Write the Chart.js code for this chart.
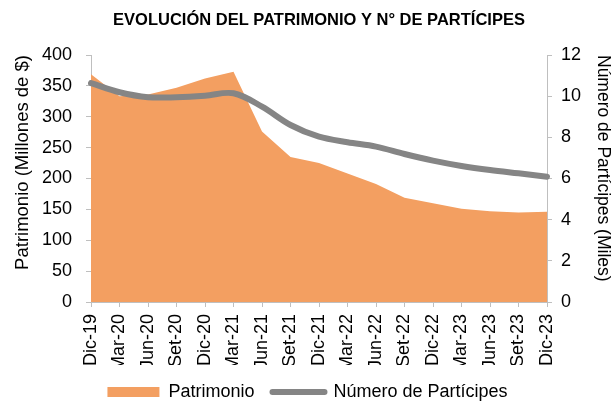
<!DOCTYPE html>
<html>
<head>
<meta charset="utf-8">
<script src="https://cdn.jsdelivr.net/npm/chart.js@4/dist/chart.umd.min.js"></script>
<style>
  html, body { margin: 0; padding: 0; background: #fff; }
  #wrap { width: 615px; height: 403px; position: relative; }
</style>
</head>
<body>
<div id="wrap"><canvas id="c" width="615" height="403"></canvas></div>
<script>
const categories = ['Dic-19','Mar-20','Jun-20','Set-20','Dic-20','Mar-21','Jun-21','Set-21','Dic-21','Mar-22','Jun-22','Set-22','Dic-22','Mar-23','Jun-23','Set-23','Dic-23'];
const patrimonio = [369, 333, 336, 347, 362, 373, 276, 235, 225, 208, 191, 169, 160, 151, 147, 145, 146];
const participes = [10.63, 10.19, 9.95, 9.95, 10.02, 10.14, 9.49, 8.6, 8.03, 7.76, 7.55, 7.19, 6.87, 6.61, 6.41, 6.25, 6.09];
const titleText = 'EVOLUCIÓN DEL PATRIMONIO Y N° DE PARTÍCIPES';
const leftTitle = 'Patrimonio (Millones de $)';
const rightTitle = 'Número de Partícipes (Miles)';
const seriesNames = ['Patrimonio', 'Número de Partícipes'];

const FONT = '"Liberation Sans", Arial, sans-serif';
const ORANGE = '#F39F61';
const GRAY = '#858585';
const AXIS = '#BFBFBF';

new Chart(document.getElementById('c'), {
  type: 'line',
  data: {
    labels: categories,
    datasets: [
      {
        label: seriesNames[0],
        data: patrimonio,
        yAxisID: 'y',
        fill: 'origin',
        backgroundColor: ORANGE,
        borderWidth: 0,
        borderColor: ORANGE,
        pointRadius: 0,
        tension: 0,
        order: 1
      },
      {
        label: seriesNames[1],
        data: participes,
        yAxisID: 'y1',
        fill: false,
        borderColor: GRAY,
        backgroundColor: GRAY,
        borderWidth: 6,
        borderCapStyle: 'round',
        borderJoinStyle: 'round',
        pointRadius: 0,
        tension: 0.35,
        order: 0
      }
    ]
  },
  options: {
    responsive: false,
    animation: false,
    layout: { padding: 0 },
    plugins: {
      tooltip: { enabled: false },
      title: {
        display: true,
        text: titleText,
        fullSize: false,
        color: '#000',
        font: { family: FONT, size: 16.5, weight: 'bold' },
        padding: { top: 11, bottom: 24.2 }
      },
      legend: {
        position: 'bottom',
        maxHeight: 38,
        labels: {
          usePointStyle: true,
          pointStyleWidth: 52,
          boxWidth: 52,
          boxHeight: 10,
          padding: 18,
          color: '#000',
          font: { family: FONT, size: 18 },
          generateLabels: (chart) => [
            { text: seriesNames[0], fillStyle: ORANGE, strokeStyle: ORANGE, lineWidth: 0, pointStyle: 'rect', datasetIndex: 0, hidden: false, fontColor: '#000' },
            { text: seriesNames[1], fillStyle: GRAY, strokeStyle: GRAY, lineWidth: 6, lineCap: 'round', pointStyle: 'line', datasetIndex: 1, hidden: false, fontColor: '#000' }
          ]
        }
      }
    },
    scales: {
      x: {
        type: 'category',
        offset: false,
        afterFit: (s) => { s.height = 63; },
        grid: { display: true, drawOnChartArea: false, drawTicks: true, tickLength: 5, color: AXIS },
        border: { display: true, color: AXIS, width: 1 },
        ticks: {
          autoSkip: false,
          minRotation: 90,
          maxRotation: 90,
          padding: 7,
          color: '#000',
          font: { family: FONT, size: 18 }
        }
      },
      y: {
        position: 'left',
        min: 0,
        max: 400,
        afterFit: (s) => { s.width = 91; },
        grid: { display: true, drawOnChartArea: false, drawTicks: true, tickLength: 5, color: AXIS },
        border: { display: true, color: AXIS, width: 1 },
        ticks: { stepSize: 50, padding: 14, color: '#000', font: { family: FONT, size: 18 } },
        title: {
          display: true,
          text: leftTitle,
          align: 'end',
          color: '#000',
          font: { family: FONT, size: 18.5 },
          padding: { top: 12, bottom: 0 }
        }
      },
      y1: {
        position: 'right',
        min: 0,
        max: 12,
        afterFit: (s) => { s.width = 68; },
        grid: { display: true, drawOnChartArea: false, drawTicks: true, tickLength: 5, color: AXIS },
        border: { display: true, color: AXIS, width: 1 },
        ticks: { stepSize: 2, padding: 9, color: '#000', font: { family: FONT, size: 18 } },
        title: {
          display: true,
          text: rightTitle,
          align: 'end',
          color: '#000',
          font: { family: FONT, size: 17.5 },
          padding: { top: 2, bottom: 0 }
        }
      }
    }
  }
});
</script>
</body>
</html>
